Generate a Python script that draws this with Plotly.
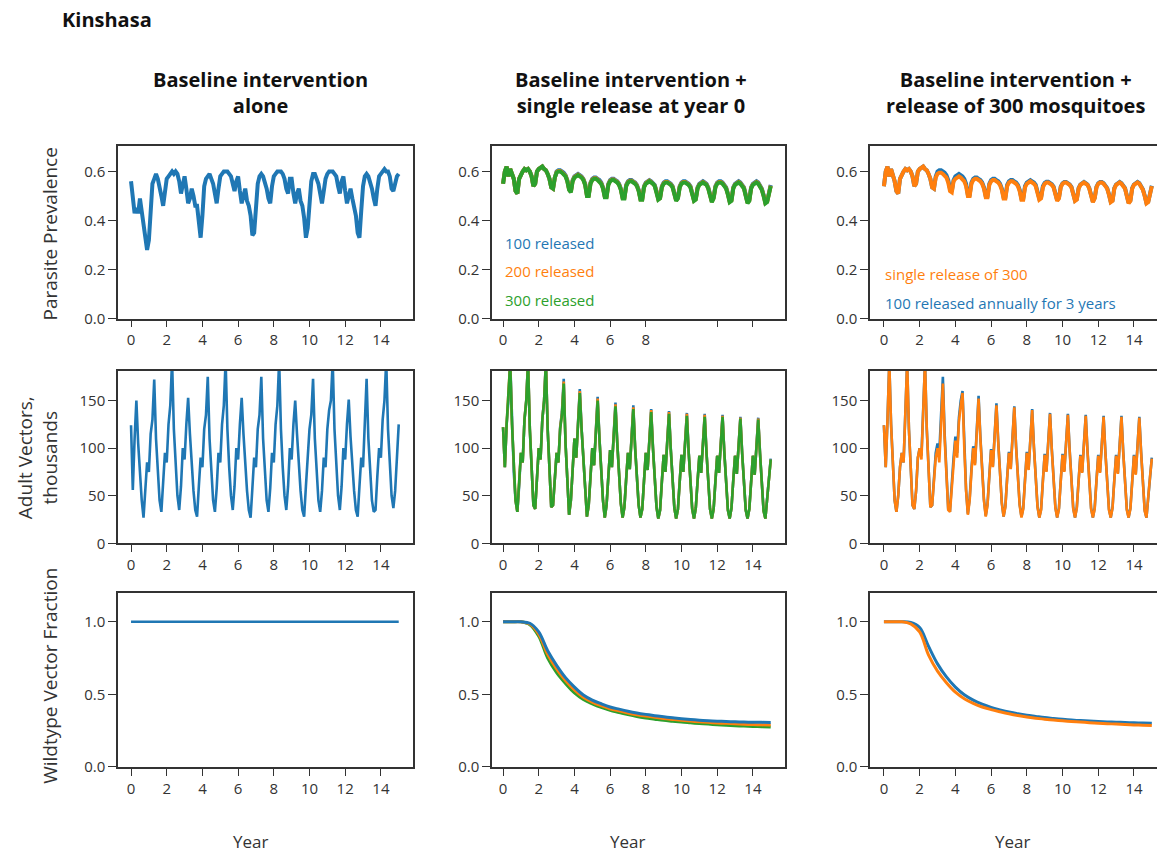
import plotly.graph_objects as go

# ---------------------------------------------------------------- data
# model output sampled every 0.1 year, 0 .. 15
YEAR = [round(i * 0.1, 1) for i in range(151)]
# smooth wildtype-fraction curves sampled every 0.5 year
YEAR_HALF = [i * 0.5 for i in range(31)]
X_TICKS = [0, 2, 4, 6, 8, 10, 12, 14]

# Baseline alone: parasite prevalence
PREV_BASE = [
    0.56, 0.50, 0.43, 0.45, 0.43, 0.49, 0.44, 0.40, 0.33, 0.28,
    0.32, 0.45, 0.55, 0.57, 0.59, 0.57, 0.54, 0.50, 0.46, 0.52,
    0.57, 0.58, 0.59, 0.60, 0.59, 0.60, 0.59, 0.56, 0.51, 0.55,
    0.58, 0.53, 0.47, 0.49, 0.53, 0.50, 0.46, 0.46, 0.38, 0.33,
    0.42, 0.54, 0.57, 0.58, 0.59, 0.57, 0.55, 0.51, 0.47, 0.53,
    0.58, 0.59, 0.60, 0.60, 0.60, 0.59, 0.58, 0.55, 0.52, 0.56,
    0.58, 0.52, 0.47, 0.50, 0.53, 0.48, 0.46, 0.42, 0.34, 0.35,
    0.45, 0.55, 0.58, 0.59, 0.58, 0.56, 0.53, 0.49, 0.47, 0.54,
    0.58, 0.59, 0.60, 0.60, 0.60, 0.59, 0.57, 0.53, 0.51, 0.57,
    0.57, 0.51, 0.47, 0.51, 0.53, 0.48, 0.46, 0.41, 0.33, 0.37,
    0.48, 0.56, 0.59, 0.59, 0.57, 0.55, 0.51, 0.47, 0.52, 0.57,
    0.59, 0.60, 0.60, 0.60, 0.59, 0.58, 0.54, 0.51, 0.56, 0.58,
    0.52, 0.47, 0.50, 0.53, 0.49, 0.46, 0.42, 0.35, 0.33, 0.44,
    0.54, 0.58, 0.59, 0.58, 0.56, 0.53, 0.49, 0.46, 0.53, 0.58,
    0.59, 0.60, 0.61, 0.60, 0.60, 0.58, 0.53, 0.52, 0.56, 0.58,
    0.59,
]

# Baseline alone: adult vectors (thousands)
VEC_BASE = [
    124, 56, 110, 150, 105, 70, 45, 27, 55, 85,
    75, 115, 130, 172, 110, 72, 45, 33, 60, 95,
    85, 125, 145, 192, 120, 80, 50, 35, 60, 100,
    88, 125, 153, 115, 80, 55, 35, 28, 60, 90,
    80, 120, 135, 175, 110, 72, 45, 33, 58, 95,
    85, 125, 145, 192, 120, 80, 50, 35, 60, 100,
    88, 125, 153, 115, 80, 55, 35, 27, 58, 90,
    80, 120, 135, 175, 110, 72, 45, 33, 58, 95,
    85, 125, 145, 192, 120, 80, 50, 35, 60, 100,
    88, 125, 150, 115, 80, 55, 35, 28, 60, 90,
    120, 135, 173, 110, 72, 45, 33, 55, 90, 80,
    120, 140, 150, 192, 120, 80, 50, 35, 60, 100,
    88, 125, 151, 112, 78, 55, 35, 28, 60, 90,
    80, 120, 173, 110, 72, 45, 33, 35, 70, 100,
    90, 130, 150, 192, 120, 80, 50, 37, 55, 90,
    125,
]

# Single release at year 0: parasite prevalence (100 / 200 / 300 released)
PREV_REL100 = [
    0.55, 0.60, 0.62, 0.58, 0.61, 0.59, 0.57, 0.52, 0.51, 0.57,
    0.59, 0.60, 0.61, 0.605, 0.61, 0.60, 0.58, 0.54, 0.55, 0.60,
    0.61, 0.615, 0.62, 0.61, 0.605, 0.59, 0.57, 0.535, 0.53, 0.575,
    0.60, 0.605, 0.605, 0.60, 0.595, 0.585, 0.565, 0.53, 0.52, 0.565,
    0.58, 0.585, 0.59, 0.585, 0.58, 0.57, 0.55, 0.505, 0.505, 0.555,
    0.57, 0.575, 0.575, 0.57, 0.565, 0.555, 0.535, 0.50, 0.50, 0.55,
    0.565, 0.57, 0.57, 0.565, 0.56, 0.55, 0.53, 0.495, 0.495, 0.545,
    0.56, 0.565, 0.565, 0.56, 0.555, 0.545, 0.525, 0.49, 0.49, 0.54,
    0.555, 0.56, 0.565, 0.56, 0.555, 0.545, 0.52, 0.49, 0.495, 0.54,
    0.555, 0.56, 0.56, 0.555, 0.55, 0.54, 0.515, 0.485, 0.495, 0.54,
    0.555, 0.56, 0.56, 0.555, 0.55, 0.54, 0.515, 0.485, 0.49, 0.535,
    0.55, 0.555, 0.56, 0.555, 0.55, 0.535, 0.51, 0.48, 0.495, 0.54,
    0.555, 0.56, 0.56, 0.555, 0.545, 0.535, 0.51, 0.48, 0.485, 0.535,
    0.55, 0.555, 0.56, 0.555, 0.545, 0.535, 0.505, 0.475, 0.485, 0.535,
    0.55, 0.555, 0.56, 0.555, 0.545, 0.53, 0.505, 0.475, 0.48, 0.525,
    0.545,
]
PREV_REL200 = [
    0.55, 0.60, 0.62, 0.58, 0.61, 0.59, 0.57, 0.52, 0.51, 0.57,
    0.59, 0.60, 0.61, 0.605, 0.61, 0.60, 0.58, 0.54, 0.55, 0.60,
    0.61, 0.615, 0.62, 0.61, 0.605, 0.59, 0.57, 0.535, 0.53, 0.575,
    0.597, 0.602, 0.602, 0.597, 0.592, 0.582, 0.562, 0.527, 0.517, 0.562,
    0.577, 0.582, 0.587, 0.582, 0.577, 0.567, 0.547, 0.502, 0.502, 0.552,
    0.567, 0.572, 0.572, 0.567, 0.562, 0.552, 0.532, 0.497, 0.497, 0.547,
    0.562, 0.567, 0.567, 0.562, 0.557, 0.547, 0.527, 0.492, 0.492, 0.542,
    0.557, 0.562, 0.562, 0.557, 0.552, 0.542, 0.522, 0.487, 0.487, 0.537,
    0.552, 0.557, 0.562, 0.557, 0.552, 0.542, 0.517, 0.487, 0.492, 0.537,
    0.552, 0.557, 0.557, 0.552, 0.547, 0.537, 0.512, 0.482, 0.492, 0.537,
    0.552, 0.557, 0.557, 0.552, 0.547, 0.537, 0.512, 0.482, 0.487, 0.532,
    0.547, 0.552, 0.557, 0.552, 0.547, 0.532, 0.507, 0.477, 0.492, 0.537,
    0.552, 0.557, 0.557, 0.552, 0.542, 0.532, 0.507, 0.477, 0.482, 0.532,
    0.547, 0.552, 0.557, 0.552, 0.542, 0.532, 0.502, 0.472, 0.482, 0.532,
    0.547, 0.552, 0.557, 0.552, 0.542, 0.527, 0.502, 0.472, 0.477, 0.522,
    0.542,
]
PREV_REL300 = [
    0.55, 0.60, 0.62, 0.58, 0.61, 0.59, 0.57, 0.52, 0.51, 0.57,
    0.59, 0.60, 0.61, 0.605, 0.61, 0.60, 0.58, 0.54, 0.55, 0.60,
    0.61, 0.615, 0.62, 0.61, 0.605, 0.59, 0.57, 0.535, 0.53, 0.575,
    0.595, 0.60, 0.60, 0.595, 0.59, 0.58, 0.56, 0.525, 0.515, 0.56,
    0.575, 0.58, 0.585, 0.58, 0.575, 0.565, 0.545, 0.50, 0.50, 0.55,
    0.565, 0.57, 0.57, 0.565, 0.56, 0.55, 0.53, 0.495, 0.495, 0.545,
    0.56, 0.565, 0.565, 0.56, 0.555, 0.545, 0.525, 0.49, 0.49, 0.54,
    0.555, 0.56, 0.56, 0.555, 0.55, 0.54, 0.52, 0.485, 0.485, 0.535,
    0.55, 0.555, 0.56, 0.555, 0.55, 0.54, 0.515, 0.485, 0.49, 0.535,
    0.55, 0.555, 0.555, 0.55, 0.545, 0.535, 0.51, 0.48, 0.49, 0.535,
    0.55, 0.555, 0.555, 0.55, 0.545, 0.535, 0.51, 0.48, 0.485, 0.53,
    0.545, 0.55, 0.555, 0.55, 0.545, 0.53, 0.505, 0.475, 0.49, 0.535,
    0.55, 0.555, 0.555, 0.55, 0.54, 0.53, 0.505, 0.475, 0.48, 0.53,
    0.545, 0.55, 0.555, 0.55, 0.54, 0.53, 0.50, 0.47, 0.48, 0.53,
    0.545, 0.55, 0.555, 0.55, 0.54, 0.525, 0.50, 0.47, 0.475, 0.52,
    0.54,
]

# Release of 300 mosquitoes: parasite prevalence (single / annual x3)
PREV_SINGLE300 = [
    0.54, 0.60, 0.62, 0.58, 0.61, 0.59, 0.56, 0.52, 0.51, 0.57,
    0.59, 0.60, 0.61, 0.605, 0.61, 0.60, 0.58, 0.54, 0.55, 0.60,
    0.61, 0.615, 0.62, 0.61, 0.605, 0.59, 0.57, 0.535, 0.53, 0.575,
    0.59, 0.595, 0.595, 0.59, 0.585, 0.575, 0.555, 0.52, 0.515, 0.56,
    0.57, 0.575, 0.58, 0.575, 0.57, 0.56, 0.54, 0.50, 0.50, 0.55,
    0.565, 0.57, 0.57, 0.565, 0.56, 0.55, 0.53, 0.495, 0.495, 0.545,
    0.56, 0.565, 0.565, 0.56, 0.555, 0.545, 0.525, 0.49, 0.49, 0.54,
    0.555, 0.56, 0.56, 0.555, 0.55, 0.54, 0.52, 0.485, 0.485, 0.535,
    0.55, 0.555, 0.56, 0.555, 0.55, 0.54, 0.515, 0.485, 0.49, 0.535,
    0.55, 0.555, 0.555, 0.55, 0.545, 0.535, 0.51, 0.48, 0.49, 0.535,
    0.55, 0.555, 0.555, 0.55, 0.545, 0.535, 0.51, 0.48, 0.485, 0.53,
    0.545, 0.55, 0.555, 0.55, 0.545, 0.53, 0.505, 0.475, 0.49, 0.535,
    0.55, 0.555, 0.555, 0.55, 0.54, 0.53, 0.505, 0.475, 0.48, 0.53,
    0.545, 0.55, 0.555, 0.55, 0.54, 0.53, 0.50, 0.47, 0.48, 0.53,
    0.545, 0.55, 0.555, 0.55, 0.54, 0.525, 0.50, 0.47, 0.475, 0.52,
    0.54,
]
PREV_ANNUAL100 = [
    0.54, 0.60, 0.62, 0.58, 0.61, 0.59, 0.56, 0.52, 0.51, 0.57,
    0.59, 0.60, 0.61, 0.605, 0.61, 0.60, 0.58, 0.54, 0.55, 0.60,
    0.61, 0.615, 0.62, 0.61, 0.605, 0.59, 0.57, 0.535, 0.53, 0.58,
    0.60, 0.605, 0.605, 0.60, 0.595, 0.585, 0.565, 0.53, 0.52, 0.565,
    0.58, 0.585, 0.59, 0.585, 0.58, 0.57, 0.55, 0.505, 0.505, 0.555,
    0.57, 0.575, 0.575, 0.57, 0.565, 0.555, 0.535, 0.50, 0.50, 0.55,
    0.565, 0.57, 0.57, 0.565, 0.56, 0.55, 0.53, 0.495, 0.495, 0.545,
    0.56, 0.565, 0.565, 0.56, 0.555, 0.545, 0.525, 0.49, 0.49, 0.54,
    0.555, 0.56, 0.565, 0.56, 0.555, 0.545, 0.52, 0.49, 0.495, 0.54,
    0.553, 0.558, 0.558, 0.553, 0.548, 0.538, 0.513, 0.483, 0.493, 0.538,
    0.552, 0.557, 0.557, 0.552, 0.547, 0.537, 0.512, 0.482, 0.487, 0.532,
    0.547, 0.552, 0.557, 0.552, 0.547, 0.532, 0.507, 0.477, 0.492, 0.537,
    0.552, 0.557, 0.557, 0.552, 0.542, 0.532, 0.507, 0.477, 0.482, 0.532,
    0.547, 0.552, 0.557, 0.552, 0.542, 0.532, 0.502, 0.472, 0.482, 0.532,
    0.547, 0.552, 0.557, 0.552, 0.542, 0.527, 0.502, 0.472, 0.477, 0.522,
    0.542,
]

# Single release at year 0: adult vectors (thousands)
VEC_REL100 = [
    122, 80, 125, 150, 192, 125, 75, 45, 33, 60,
    95, 85, 130, 150, 192, 120, 70, 40, 36, 65,
    100, 88, 130, 150, 192, 120, 70, 38, 40, 70,
    95, 85, 122, 138, 173, 106, 60, 30, 45, 80,
    110, 90, 126, 162, 121, 85, 50, 28, 40, 72,
    100, 82, 116, 154, 111, 75, 45, 27, 40, 70,
    98, 80, 111, 148, 106, 72, 42, 27, 38, 68,
    95, 78, 109, 145, 101, 68, 40, 27, 36, 66,
    95, 77, 106, 141, 101, 65, 38, 26, 35, 65,
    93, 75, 104, 139, 99, 64, 37, 26, 36, 65,
    93, 75, 103, 137, 97, 62, 36, 26, 37, 65,
    92, 74, 101, 136, 96, 62, 36, 26, 36, 65,
    92, 74, 101, 135, 96, 61, 35, 26, 37, 66,
    92, 73, 101, 133, 95, 60, 35, 26, 36, 64,
    92, 72, 101, 132, 95, 60, 34, 26, 45, 70,
    89,
]
VEC_REL200 = [
    122, 80, 125, 150, 191, 125, 75, 45, 33, 60,
    95, 85, 130, 150, 191, 120, 70, 40, 36, 65,
    100, 88, 130, 150, 191, 120, 70, 38, 40, 70,
    95, 85, 121, 136, 170, 105, 60, 30, 45, 80,
    110, 90, 125, 160, 120, 85, 50, 28, 40, 72,
    100, 82, 115, 152, 110, 75, 45, 27, 40, 70,
    98, 80, 110, 146, 105, 72, 42, 27, 38, 68,
    95, 78, 108, 143, 100, 68, 40, 27, 36, 66,
    95, 77, 105, 140, 100, 65, 38, 26, 35, 65,
    93, 75, 103, 138, 98, 64, 37, 26, 36, 65,
    93, 75, 102, 136, 96, 62, 36, 26, 37, 65,
    92, 74, 100, 135, 95, 62, 36, 26, 36, 65,
    92, 74, 100, 134, 95, 61, 35, 26, 37, 66,
    92, 73, 100, 132, 94, 60, 35, 26, 36, 64,
    92, 72, 100, 131, 94, 60, 34, 26, 45, 70,
    88,
]
VEC_REL300 = [
    122, 80, 125, 150, 190, 125, 75, 45, 33, 60,
    95, 85, 130, 150, 190, 120, 70, 40, 36, 65,
    100, 88, 130, 150, 190, 120, 70, 38, 40, 70,
    95, 85, 120, 135, 168, 105, 60, 30, 45, 80,
    110, 90, 125, 158, 120, 85, 50, 28, 40, 72,
    100, 82, 115, 150, 110, 75, 45, 27, 40, 70,
    98, 80, 110, 144, 105, 72, 42, 27, 38, 68,
    95, 78, 108, 141, 100, 68, 40, 27, 36, 66,
    95, 77, 105, 138, 100, 65, 38, 26, 35, 65,
    93, 75, 103, 136, 98, 64, 37, 26, 36, 65,
    93, 75, 102, 134, 96, 62, 36, 26, 37, 65,
    92, 74, 100, 133, 95, 62, 36, 26, 36, 65,
    92, 74, 100, 133, 95, 61, 35, 26, 37, 66,
    92, 73, 100, 131, 94, 60, 35, 26, 36, 64,
    92, 72, 100, 130, 94, 60, 34, 26, 45, 70,
    88,
]

# Release of 300 mosquitoes: adult vectors (thousands)
VEC_SINGLE300 = [
    124, 80, 130, 190, 125, 75, 45, 33, 50, 80,
    95, 85, 130, 190, 120, 70, 40, 36, 55, 90,
    100, 88, 135, 190, 120, 70, 38, 40, 65, 90,
    100, 85, 125, 168, 110, 65, 35, 33, 60, 85,
    108, 90, 128, 145, 158, 100, 55, 30, 45, 75,
    100, 82, 118, 152, 110, 75, 45, 28, 40, 70,
    98, 80, 112, 145, 106, 72, 42, 28, 38, 68,
    95, 78, 110, 143, 101, 68, 40, 27, 36, 66,
    95, 77, 107, 140, 100, 65, 38, 27, 35, 65,
    93, 75, 104, 136, 98, 64, 37, 27, 36, 65,
    93, 75, 103, 135, 97, 62, 36, 27, 37, 65,
    92, 74, 101, 134, 96, 62, 36, 27, 36, 65,
    92, 74, 101, 133, 95, 61, 35, 27, 37, 66,
    92, 73, 101, 133, 95, 60, 35, 27, 36, 64,
    92, 72, 101, 132, 95, 60, 34, 27, 45, 70,
    89,
]
VEC_ANNUAL100 = [
    124, 80, 130, 190, 125, 75, 45, 33, 50, 80,
    95, 85, 130, 190, 120, 70, 40, 36, 55, 90,
    100, 92, 140, 190, 120, 70, 38, 40, 70, 95,
    105, 95, 135, 175, 115, 68, 36, 35, 65, 90,
    112, 95, 132, 150, 160, 102, 56, 31, 47, 78,
    102, 84, 120, 155, 112, 76, 46, 29, 41, 71,
    99, 81, 113, 147, 107, 73, 43, 28, 39, 69,
    96, 79, 111, 144, 102, 69, 41, 28, 37, 67,
    96, 78, 108, 141, 101, 66, 39, 27, 36, 66,
    94, 76, 105, 137, 99, 65, 38, 27, 37, 66,
    94, 76, 104, 136, 98, 63, 37, 27, 38, 66,
    93, 75, 102, 135, 97, 63, 37, 27, 37, 66,
    93, 75, 102, 134, 96, 62, 36, 27, 38, 67,
    93, 74, 102, 134, 96, 61, 36, 27, 37, 65,
    93, 73, 102, 133, 96, 61, 35, 27, 46, 71,
    90,
]

# Wildtype vector fraction
WT_BASE_YEAR = [0, 15]
WT_BASE = [1.0, 1.0]
WT_REL100 = [
    1.0, 1.0, 1.0, 0.99, 0.93, 0.80, 0.70, 0.615, 0.55, 0.495,
    0.46, 0.435, 0.413, 0.398, 0.384, 0.372, 0.362, 0.353, 0.345, 0.338,
    0.332, 0.327, 0.322, 0.318, 0.315, 0.313, 0.311, 0.309, 0.308, 0.307,
    0.306,
]
WT_REL200 = [
    1.0, 1.0, 1.0, 0.985, 0.915, 0.775, 0.675, 0.595, 0.53, 0.48,
    0.447, 0.422, 0.401, 0.386, 0.372, 0.36, 0.35, 0.342, 0.334, 0.327,
    0.321, 0.316, 0.311, 0.307, 0.303, 0.3, 0.297, 0.294, 0.292, 0.29,
    0.288,
]
WT_REL300 = [
    1.0, 1.0, 1.0, 0.98, 0.90, 0.75, 0.65, 0.575, 0.51, 0.465,
    0.435, 0.41, 0.39, 0.375, 0.36, 0.347, 0.337, 0.329, 0.321, 0.315,
    0.309, 0.304, 0.299, 0.295, 0.291, 0.287, 0.284, 0.281, 0.279, 0.277,
    0.275,
]
WT_SINGLE300 = [
    1.0, 1.0, 1.0, 0.985, 0.93, 0.77, 0.66, 0.58, 0.515, 0.47,
    0.438, 0.413, 0.395, 0.38, 0.366, 0.354, 0.344, 0.336, 0.329, 0.323,
    0.318, 0.313, 0.309, 0.305, 0.301, 0.298, 0.295, 0.292, 0.289, 0.287,
    0.285,
]
WT_ANNUAL100 = [
    1.0, 1.0, 1.0, 0.995, 0.96, 0.83, 0.71, 0.62, 0.55, 0.497,
    0.46, 0.432, 0.41, 0.393, 0.378, 0.366, 0.356, 0.348, 0.34, 0.334,
    0.328, 0.323, 0.319, 0.316, 0.313, 0.31, 0.308, 0.306, 0.304, 0.302,
    0.30,
]

BLUE = "#1f77b4"
ORANGE = "#ff7f0e"
GREEN = "#2ca02c"
INK = "#333333"
FONT = "Open Sans"

W, H = 1157, 862


def px(x):
    return x / W


def py(y):
    return 1 - y / H


# panel frames in pixels
COL_X = [(118, 413), (492, 785), (870, 1157)]
ROW_Y = [(148, 322), (375, 549), (599, 775)]
X_RANGES = [(-0.73, 15.8), (-0.62, 15.8), (-0.78, 15.29)]
Y_RANGES = [(0, 0.702), (0, 181), (0, 1.2)]
Y_TICKS = [[0, 0.2, 0.4, 0.6], [0, 50, 100, 150], [0, 0.5, 1.0]]
Y_FORMATS = [".1f", "d", ".1f"]

fig = go.Figure()


def axis_id(r, c):
    n = r * 3 + c + 1
    return ("x" if n == 1 else f"x{n}"), ("y" if n == 1 else f"y{n}")


def add_line(r, c, x, y, color, width):
    xa, ya = axis_id(r, c)
    fig.add_trace(go.Scatter(x=x, y=y, mode="lines", xaxis=xa, yaxis=ya,
                             line=dict(color=color, width=width),
                             hoverinfo="skip", showlegend=False))


def add_curve(r, c, x, y, color):
    xa, ya = axis_id(r, c)
    fig.add_trace(go.Scatter(x=x, y=y, mode="lines", xaxis=xa, yaxis=ya,
                             line=dict(color=color, width=3, shape="spline"),
                             hoverinfo="skip", showlegend=False))


# row 1: parasite prevalence
add_line(0, 0, YEAR, PREV_BASE, BLUE, 4)
add_line(0, 1, YEAR, PREV_REL100, BLUE, 4)
add_line(0, 1, YEAR, PREV_REL200, ORANGE, 4)
add_line(0, 1, YEAR, PREV_REL300, GREEN, 4)
add_line(0, 2, YEAR, PREV_ANNUAL100, BLUE, 4)
add_line(0, 2, YEAR, PREV_SINGLE300, ORANGE, 4)

# row 2: adult vectors
add_line(1, 0, YEAR, VEC_BASE, BLUE, 2.6)
add_line(1, 1, YEAR, VEC_REL100, BLUE, 2.6)
add_line(1, 1, YEAR, VEC_REL200, ORANGE, 2.6)
add_line(1, 1, YEAR, VEC_REL300, GREEN, 2.6)
add_line(1, 2, YEAR, VEC_ANNUAL100, BLUE, 2.6)
add_line(1, 2, YEAR, VEC_SINGLE300, ORANGE, 2.6)

# row 3: wildtype vector fraction
add_line(2, 0, WT_BASE_YEAR, WT_BASE, BLUE, 2.5)
add_curve(2, 1, YEAR_HALF, WT_REL300, GREEN)
add_curve(2, 1, YEAR_HALF, WT_REL200, ORANGE)
add_curve(2, 1, YEAR_HALF, WT_REL100, BLUE)
add_curve(2, 2, YEAR_HALF, WT_ANNUAL100, BLUE)
add_curve(2, 2, YEAR_HALF, WT_SINGLE300, ORANGE)

tickfont = dict(family=FONT, size=15, color=INK)
layout_axes = {}
for r in range(3):
    for c in range(3):
        xa, ya = axis_id(r, c)
        xkey = "xaxis" if xa == "x" else "xaxis" + xa[1:]
        ykey = "yaxis" if ya == "y" else "yaxis" + ya[1:]
        x0, x1 = COL_X[c]
        y0, y1 = ROW_Y[r]
        xticks = X_TICKS
        xtext = [str(v) for v in X_TICKS]
        if r == 0 and c == 1:
            xticks = [0, 2, 4, 6, 8, 12, 14]
            xtext = ["0", "2", "4", "6", "8", "", ""]
        layout_axes[xkey] = dict(
            domain=[px(x0), px(x1)], anchor=ya, range=list(X_RANGES[c]),
            tickvals=xticks, ticktext=xtext, ticks="outside", ticklen=7,
            tickwidth=1.3, tickcolor=INK, tickfont=tickfont,
            showline=True, linecolor=INK, linewidth=1.5, mirror=True,
            showgrid=False, zeroline=False, fixedrange=True,
        )
        layout_axes[ykey] = dict(
            domain=[py(y1), py(y0)], anchor=xa, range=list(Y_RANGES[r]),
            tickvals=Y_TICKS[r], tickformat=Y_FORMATS[r], ticks="outside",
            ticklen=8, tickwidth=1.3, tickcolor=INK, tickfont=tickfont,
            showline=True, linecolor=INK, linewidth=1.5, mirror=(c != 2),
            showgrid=False, zeroline=False, fixedrange=True,
        )

annotations = []


def text(x, y, s, size, color=INK, bold=False, xanchor="center", angle=0):
    annotations.append(dict(
        x=px(x), y=py(y), xref="paper", yref="paper", text=s,
        showarrow=False, xanchor=xanchor, yanchor="middle", textangle=angle,
        font=dict(family=FONT, size=size, color=color,
                  weight="bold" if bold else "normal"),
    ))


text(60, 20, "Kinshasa", 20, "#111", True, xanchor="left")
text(260, 93, "Baseline intervention<br>alone", 20, "#111", True)
text(631, 93, "Baseline intervention +<br>single release at year 0", 20, "#111", True)
text(1015, 93, "Baseline intervention +<br>release of 300 mosquitoes", 20, "#111", True)

text(50, 237, "Parasite Prevalence", 19, INK, angle=-90)
text(37, 463, "Adult Vectors,<br>thousands", 19, INK, angle=-90)
text(50, 683, "Wildtype Vector Fraction", 19, INK, angle=-90)

for xc in (250, 627, 1012):
    text(xc, 850, "Year", 17, INK)

text(503, 246, "100 released", 15, BLUE, xanchor="left")
text(503, 274, "200 released", 15, ORANGE, xanchor="left")
text(503, 303, "300 released", 15, GREEN, xanchor="left")
text(883, 277, "single release of 300", 15, ORANGE, xanchor="left")
text(883, 306, "100 released annually for 3 years", 15, BLUE, xanchor="left")

fig.update_layout(
    width=W, height=H, margin=dict(l=0, r=0, t=0, b=0),
    paper_bgcolor="white", plot_bgcolor="white",
    annotations=annotations, showlegend=False,
    **layout_axes,
)

fig.write_html("out.html", config={"displayModeBar": False})
